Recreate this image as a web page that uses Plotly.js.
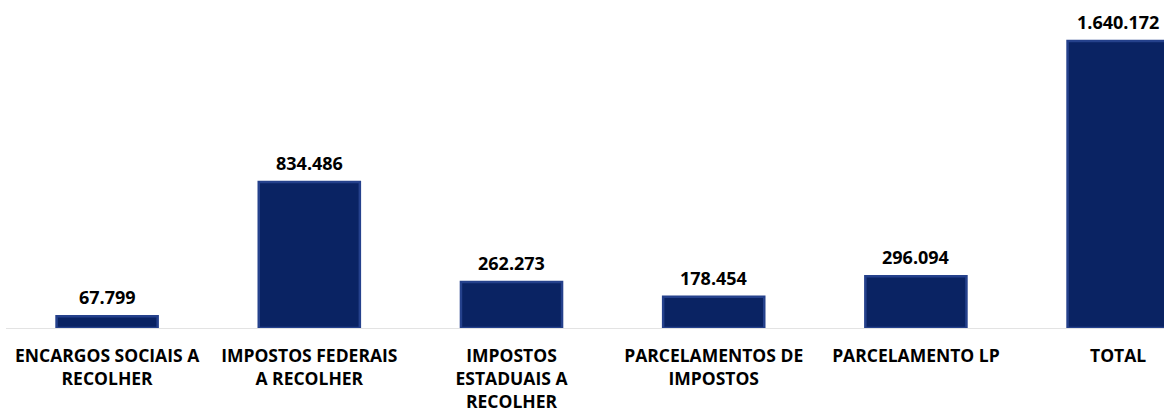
<!DOCTYPE html>
<html>
<head>
<meta charset="utf-8">
<script src="https://cdn.plot.ly/plotly-3.0.1.min.js"></script>
<style>
html,body{margin:0;padding:0;background:#fff;}
#chart{width:1164px;height:414px;}
</style>
</head>
<body>
<div id="chart"></div>
<script>
const categories = [
  "ENCARGOS SOCIAIS A<br>RECOLHER",
  "IMPOSTOS FEDERAIS<br>A RECOLHER",
  "IMPOSTOS<br>ESTADUAIS A<br>RECOLHER",
  "PARCELAMENTOS DE<br>IMPOSTOS",
  "PARCELAMENTO LP",
  "TOTAL"
];
const values = [67799, 834486, 262273, 178454, 296094, 1640172];

function fmt(v){
  return String(v).replace(/\B(?=(\d{3})+(?!\d))/g, ".");
}

const FONT = "'Open Sans', Lato, sans-serif";

const trace = {
  type: "bar",
  x: categories,
  y: values,
  width: 0.5,
  marker: {
    color: "#0a2363",
    line: {color: "#25418c", width: 2.5}
  },
  hoverinfo: "skip"
};

const annotations = categories.map((c, i) => ({
  x: c,
  y: values[i],
  xref: "x",
  yref: "y",
  text: fmt(values[i]),
  showarrow: false,
  yanchor: "bottom",
  yshift: 5,
  font: {family: FONT, size: 18, color: "#000", weight: "bold"}
}));

const layout = {
  width: 1164,
  height: 414,
  margin: {l: 6, r: 0, t: 10, b: 85.5},
  paper_bgcolor: "#fff",
  plot_bgcolor: "#fff",
  showlegend: false,
  separators: ",.",
  xaxis: {
    type: "category",
    range: [-0.5, 5.227],
    showgrid: false,
    zeroline: false,
    showline: true,
    linecolor: "#e3e3e3",
    linewidth: 1,
    ticks: "",
    ticklabelstandoff: 12,
    tickfont: {family: FONT, size: 17.5, color: "#000", weight: "bold"}
  },
  yaxis: {
    range: [0, 1817000],
    visible: false,
    showgrid: false,
    zeroline: false
  },
  annotations: annotations
};

Plotly.newPlot("chart", [trace], layout, {displayModeBar: false, staticPlot: true});
</script>
</body>
</html>
